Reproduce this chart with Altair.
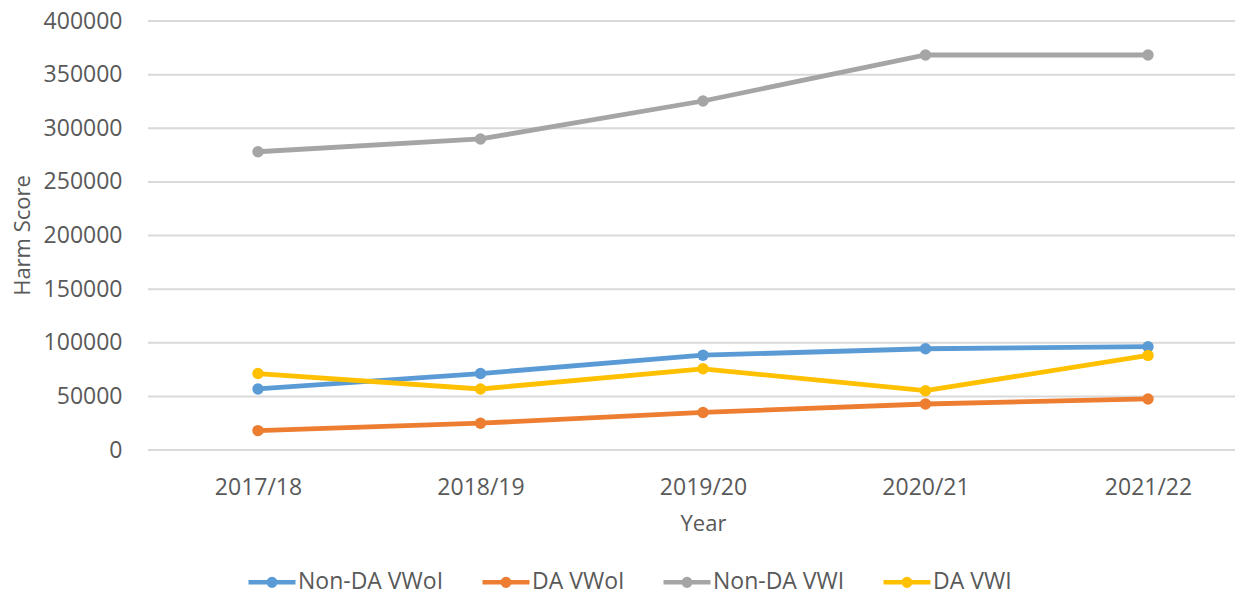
import altair as alt
import pandas as pd

years = ["2017/18", "2018/19", "2019/20", "2020/21", "2021/22"]
series_names = ["Non-DA VWoI", "DA VWoI", "Non-DA VWI", "DA VWI"]
non_da_vwoi = [56900, 71300, 88400, 94400, 96300]
da_vwoi = [18100, 25000, 35000, 42900, 47600]
non_da_vwi = [278100, 290000, 325400, 368300, 368300]
da_vwi = [71300, 56900, 75700, 55300, 88200]
colors = ["#5B9BD5", "#ED7D31", "#A5A5A5", "#FFC000"]
y_ticks = [0, 50000, 100000, 150000, 200000, 250000, 300000, 350000, 400000]

rows = []
for name, vals in zip(series_names, [non_da_vwoi, da_vwoi, non_da_vwi, da_vwi]):
    for yr, v in zip(years, vals):
        rows.append({"Year": yr, "Series": name, "Harm Score": v})
df = pd.DataFrame(rows)
grid_df = pd.DataFrame({"Harm Score": y_ticks})

TEXT = "#595959"
sym_path = ("M-1,0L1,0M-0.14,0a0.14,0.14 0 1,0 0.28,0"
            "a0.14,0.14 0 1,0 -0.28,0Z")

leg_kwargs = dict(
    title=None, orient="none", direction="horizontal",
    legendX=98, legendY=535,
    symbolType=sym_path, symbolSize=2209, symbolStrokeWidth=4.5,
    labelFont="Open Sans", labelFontSize=23, labelColor=TEXT,
    columnPadding=29, labelOffset=0,
)
try:
    legend = alt.Legend(**leg_kwargs, encode={"symbols": {"update": {
        "fill": {"scale": "color", "field": "value"},
        "stroke": {"scale": "color", "field": "value"}}}})
except Exception:
    legend = alt.Legend(**leg_kwargs)

y_axis = alt.Axis(title="Harm Score", values=y_ticks, format="d",
                  domain=False, ticks=False, labelFont="Open Sans",
                  labelFontSize=23, labelColor=TEXT, labelPadding=26,
                  titleFont="Open Sans", titleFontSize=22, titleColor=TEXT,
                  titleFontWeight="normal", titleAngle=270, titleX=-126,
                  titleY=214, titleAlign="center", titleBaseline="middle",
                  grid=False)
y_scale = alt.Scale(domain=[0, 400000], nice=False)

x_enc = alt.X("Year:N", sort=years, scale=alt.Scale(range=[110, 1000], padding=0),
              axis=alt.Axis(title="Year", labelAngle=0, domain=False, ticks=False,
                            labelFont="Open Sans", labelFontSize=23, labelColor=TEXT,
                            labelPadding=26, titleFont="Open Sans", titleFontSize=22,
                            titleColor=TEXT, titleFontWeight="normal", titlePadding=14,
                            grid=False))
y_enc = alt.Y("Harm Score:Q", scale=y_scale, axis=y_axis)
color_enc = alt.Color("Series:N", sort=series_names,
                      scale=alt.Scale(domain=series_names, range=colors), legend=legend)

grid = alt.Chart(grid_df).mark_rule(color="#D9D9D9", strokeWidth=2).encode(
    y=y_enc, x=alt.value(0), x2=alt.value(1087))
lines = alt.Chart(df).mark_line(strokeWidth=4.8).encode(
    x=x_enc, y=y_enc, color=color_enc)
points = alt.Chart(df).mark_circle(size=130, opacity=1).encode(
    x=x_enc, y=y_enc, color=color_enc)

chart = alt.layer(grid, lines, points).properties(
    width=1087, height=429,
    autosize=alt.AutoSizeParams(type="none"),
    padding={"left": 140, "top": 13, "right": 0, "bottom": 144},
).configure_view(stroke=None)

chart.save("out.html", embed_options={"renderer": "svg", "actions": False})
